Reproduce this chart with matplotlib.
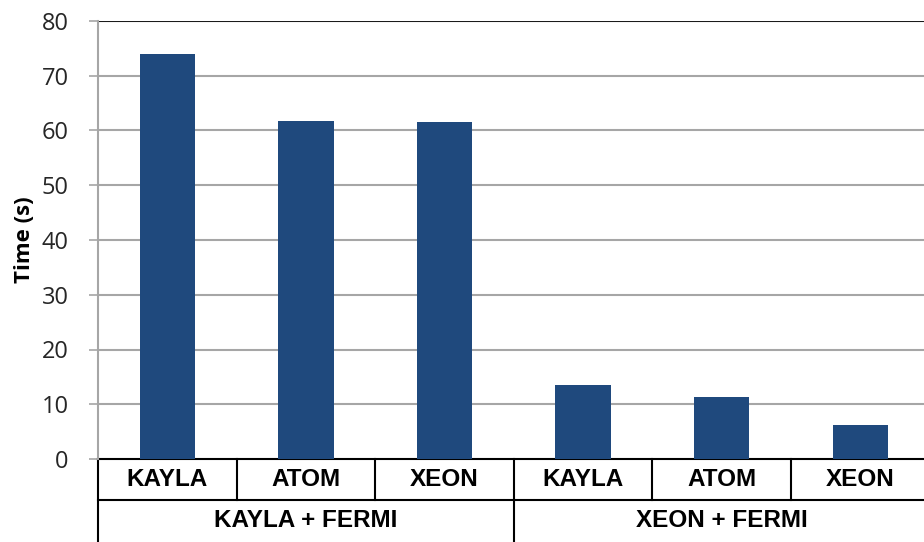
import matplotlib
matplotlib.use("Agg")
import matplotlib.pyplot as plt
import matplotlib.transforms as mtransforms

# Measured run times
systems = ["KAYLA", "ATOM", "XEON", "KAYLA", "ATOM", "XEON"]
groups = ["KAYLA + FERMI", "XEON + FERMI"]
group_sizes = [3, 3]
times = [73.9, 61.8, 61.5, 13.6, 11.3, 6.2]
y_ticks = [0, 10, 20, 30, 40, 50, 60, 70, 80]

BAR_COLOR = "#1F497D"
GRID_COLOR = "#A6A6A6"

fig = plt.figure(figsize=(9.24, 5.42), dpi=100)
W, H = 924, 542
left_px, right_px, top_px, bottom_px = 98, 929.6, 21, 459
ax = fig.add_axes([left_px / W, (H - bottom_px) / H,
                   (right_px - left_px) / W, (bottom_px - top_px) / H])

x = list(range(len(times)))
ax.bar(x, times, width=0.4, color=BAR_COLOR, zorder=3)

ax.set_xlim(-0.5, len(times) - 0.5)
ax.set_ylim(0, 80)
ax.set_yticks(y_ticks)
ax.set_yticklabels([str(v) for v in y_ticks], fontsize=17, family="Open Sans",
                   color="#262626")
ax.tick_params(axis="y", length=6.5, width=1.2, color=GRID_COLOR, pad=14.5)
ax.set_xticks([])

for v in y_ticks[1:-1]:
    ax.axhline(v, color=GRID_COLOR, lw=1.5, zorder=1)
ax.axhline(80, color="#1a1a1a", lw=1.5, zorder=1)

for s in ["top", "right", "bottom"]:
    ax.spines[s].set_visible(False)
ax.spines["left"].set_color(GRID_COLOR)
ax.spines["left"].set_linewidth(1.5)

ax.set_ylabel("Time (s)", fontsize=16, family="Open Sans", fontweight="bold")
ax.yaxis.set_label_coords(-0.076, 0.5)

# Two-level category table under the plot
trans = mtransforms.blended_transform_factory(ax.transData, ax.transAxes)
row_h = 41 / (bottom_px - top_px)
line_kw = dict(color="black", lw=1.5, transform=trans, clip_on=False)
n = len(times)

ax.plot([-0.5, n], [0, 0], **line_kw)
ax.plot([-0.5, n], [-row_h, -row_h], **line_kw)
ax.plot([-0.5, -0.5], [0, -2.2 * row_h], **line_kw)

for i in range(1, n):
    ax.plot([i - 0.5, i - 0.5], [0, -row_h], **line_kw)

for i, name in enumerate(systems):
    ax.text(i, -row_h / 2, name, transform=trans, ha="center", va="center",
            fontsize=17.5, fontweight="bold", family="Liberation Sans",
            clip_on=False)

start = 0
for g, size in zip(groups, group_sizes):
    end = start + size
    ax.text((start + end - 1) / 2, -1.5 * row_h, g, transform=trans,
            ha="center", va="center", fontsize=17.5, fontweight="bold",
            family="Liberation Sans", clip_on=False)
    if start > 0:
        ax.plot([start - 0.5, start - 0.5], [-row_h, -2.2 * row_h], **line_kw)
    start = end

fig.savefig("out.png", dpi=100)
